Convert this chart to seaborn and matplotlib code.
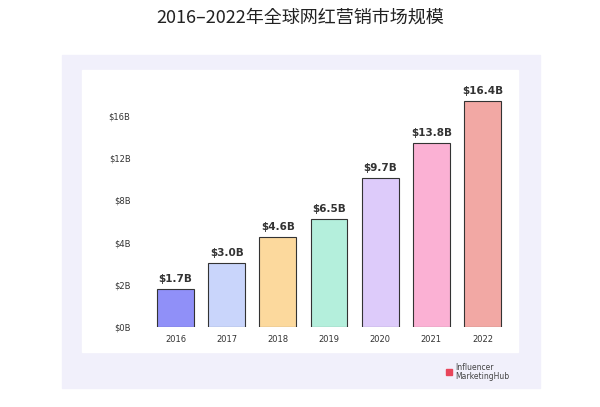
import matplotlib
matplotlib.use("Agg")
import matplotlib.pyplot as plt
import matplotlib.patches as patches
import seaborn as sns
import pandas as pd

years = ["2016", "2017", "2018", "2019", "2020", "2021", "2022"]
# bar heights read against the (evenly spaced) tick positions of the reference
heights = [0.9, 1.52, 2.13, 2.56, 3.53, 4.36, 5.36]
labels = ["$1.7B", "$3.0B", "$4.6B", "$6.5B", "$9.7B", "$13.8B", "$16.4B"]
colors = ["#9090f8", "#c9d5fb", "#fcd99d", "#b4efdc", "#ddcbfa", "#fbb1d4", "#f2a8a4"]
yticks = [0, 1, 2, 3, 4, 5]
ytick_labels = ["$0B", "$2B", "$4B", "$8B", "$12B", "$16B"]

fig = plt.figure(figsize=(6.0, 4.07), dpi=100)
fig.patch.set_facecolor("white")
fig.patches.append(patches.Rectangle((62/600, 1-388/407), 478/600, 333/407,
                                     transform=fig.transFigure, color="#f1f0fb", zorder=-2))
fig.patches.append(patches.Rectangle((82/600, 1-352/407), 436/600, 282/407,
                                     transform=fig.transFigure, color="white", zorder=-1))
fig.text(0.5, 1-18/407, "2016–2022年全球网红营销市场规模", ha="center", va="center",
         fontsize=13, color="#222222", family="Noto Sans CJK JP")

ax = fig.add_axes([150/600, 1-327/407, 358/600, 227/407])
ax.set_facecolor("none")
df = pd.DataFrame({"year": years, "value": heights})
sns.barplot(data=df, x="year", y="value", hue="year", palette=colors, legend=False,
            width=0.72, saturation=1, edgecolor="#333333", linewidth=0.8, ax=ax)
for i, (h, t) in enumerate(zip(heights, labels)):
    ax.text(i, h + 0.12, t, ha="center", va="bottom", fontsize=7.5, fontweight="bold",
            color="#333333")
ax.set_ylim(0, 5.38)
ax.set_yticks(yticks)
ax.set_yticklabels(ytick_labels, fontsize=6, color="#333333")
ax.set_xticks(range(len(years)))
ax.set_xticklabels(years, fontsize=6, color="#333333")
ax.set_xlabel("")
ax.set_ylabel("")
for s in ax.spines.values():
    s.set_visible(False)
ax.tick_params(length=0, pad=14)
ax.tick_params(axis="x", pad=6)

fig.text(455/600, 1-372/407, "Influencer\nMarketingHub", fontsize=5.5, color="#444444",
         va="center", ha="left", linespacing=0.9)
fig.patches.append(patches.Rectangle((446/600, 1-375/407), 6/600, 6/407,
                                     transform=fig.transFigure, color="#e8455a"))
fig.savefig("out.png", dpi=100)
